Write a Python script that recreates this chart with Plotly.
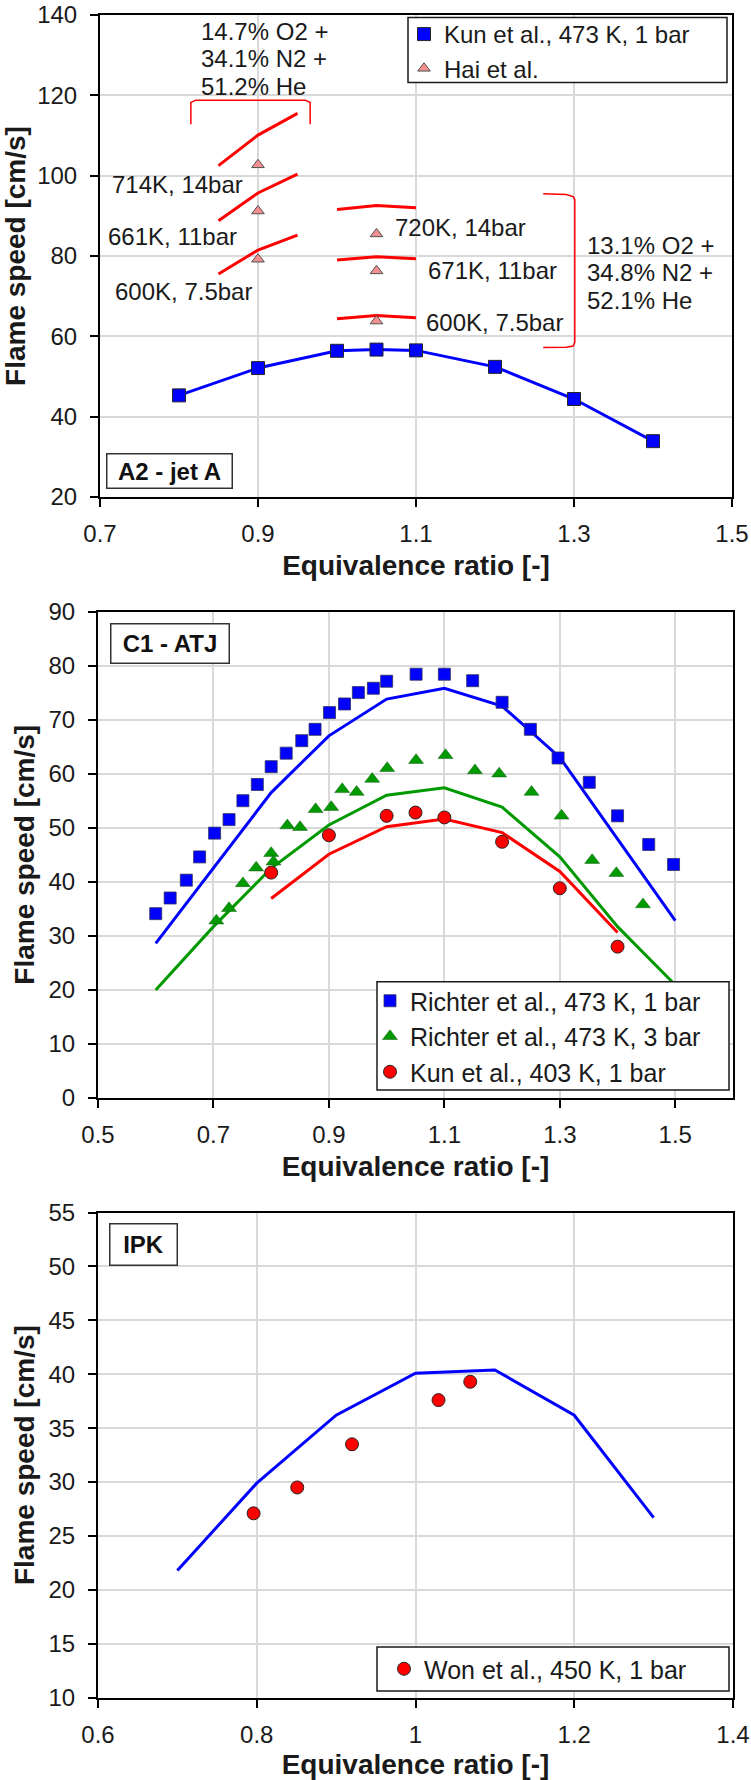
import plotly.graph_objects as go

# ---------------- DATA ----------------
# Panel 1: A2 - jet A
a2_kun_phi = [0.8, 0.9, 1.0, 1.05, 1.1, 1.2, 1.3, 1.4]
a2_kun_sl = [45.3, 52.1, 56.4, 56.7, 56.5, 52.4, 44.4, 33.9]

hai_phi = [0.9, 0.9, 0.9, 1.05, 1.05, 1.05]
hai_sl = [102.7, 91.2, 79.2, 85.5, 76.3, 63.8]

hai_sim_phi_a = [0.85, 0.9, 0.95]
hai_sim_714 = [102.5, 110.1, 115.5]
hai_sim_661 = [88.8, 95.7, 100.4]
hai_sim_600a = [75.5, 81.5, 85.2]
hai_sim_phi_b = [1.0, 1.05, 1.1]
hai_sim_720 = [91.6, 92.6, 92.0]
hai_sim_671 = [79.0, 79.8, 79.3]
hai_sim_600b = [64.4, 65.2, 64.6]

bracket1_phi = [0.815, 0.815, 0.821, 0.960, 0.966, 0.966]
bracket1_sl = [112.8, 118.2, 118.8, 118.8, 118.2, 112.8]
bracket2_phi = [1.261, 1.290, 1.299, 1.301, 1.301, 1.299, 1.290, 1.261]
bracket2_sl = [95.5, 95.3, 94.8, 94.0, 58.5, 57.6, 57.3, 57.2]

# Panel 2: C1 - ATJ
c1_r1_phi = [0.600, 0.625, 0.653, 0.676, 0.702, 0.727, 0.751, 0.776, 0.80, 0.826, 0.853,
             0.876, 0.901, 0.927, 0.951, 0.977, 1.0, 1.051, 1.10, 1.149, 1.2, 1.249,
             1.297, 1.351, 1.40, 1.454, 1.497]
c1_r1_sl = [34.1, 37.0, 40.3, 44.6, 49.0, 51.5, 55.0, 58.0, 61.3, 63.8, 66.1,
            68.2, 71.3, 72.9, 75.0, 75.8, 77.1, 78.4, 78.4, 77.2, 73.2, 68.2,
            62.9, 58.4, 52.2, 46.9, 43.2]

c1_r3_phi = [0.705, 0.727, 0.751, 0.774, 0.80, 0.804, 0.828, 0.85, 0.877, 0.904, 0.923,
             0.948, 0.975, 1.001, 1.051, 1.102, 1.153, 1.195, 1.251, 1.303, 1.356,
             1.398, 1.444]
c1_r3_sl = [32.8, 35.1, 39.7, 42.6, 45.3, 43.7, 50.4, 50.1, 53.4, 53.8, 57.1,
            56.6, 59.0, 61.0, 62.5, 63.4, 60.6, 60.0, 56.6, 52.2, 44.0,
            41.6, 35.8]

c1_kun_phi = [0.80, 0.90, 1.0, 1.05, 1.1, 1.2, 1.3, 1.4]
c1_kun_sl = [41.7, 48.6, 52.2, 52.8, 51.9, 47.4, 38.8, 28.0]

c1_sim_phi = [0.6, 0.7, 0.8, 0.9, 1.0, 1.1, 1.2, 1.3, 1.4, 1.5]
c1_sim_1bar = [28.6, 42.6, 56.5, 67.0, 73.8, 75.8, 72.5, 63.0, 48.0, 32.8]
c1_sim_3bar = [20.0, 31.7, 42.5, 50.5, 56.0, 57.4, 53.8, 44.6, 31.7, 20.9]
c1_sim_kun_phi = [0.8, 0.9, 1.0, 1.1, 1.2, 1.3, 1.4]
c1_sim_kun = [36.9, 45.1, 50.2, 51.6, 49.1, 41.9, 30.6]

# Panel 3: IPK
ipk_sim_phi = [0.7, 0.8, 0.9, 1.0, 1.1, 1.2, 1.3]
ipk_sim = [21.8, 29.9, 36.2, 40.1, 40.4, 36.2, 26.7]
won_phi = [0.796, 0.851, 0.92, 1.029, 1.069]
won_sl = [27.1, 29.5, 33.5, 37.6, 39.3]

# ---------------- STYLE ----------------
W, H = 751, 1780
FONT = "Liberation Sans, Arial, sans-serif"
BLUE = "#0000ff"
RED = "#ff0000"
GREEN = "#009a00"
DARK = "#262626"


def px(x):
    return x / W


def py(y):
    return 1 - y / H


fig = go.Figure()

# ---- Panel 1 ----
fig.add_trace(go.Scatter(x=a2_kun_phi, y=a2_kun_sl, mode="lines",
                         line=dict(color=BLUE, width=3), showlegend=False,
                         xaxis="x", yaxis="y"))
for ys in [hai_sim_714, hai_sim_661, hai_sim_600a]:
    fig.add_trace(go.Scatter(x=hai_sim_phi_a, y=ys, mode="lines",
                             line=dict(color=RED, width=3), showlegend=False,
                             xaxis="x", yaxis="y"))
for ys in [hai_sim_720, hai_sim_671, hai_sim_600b]:
    fig.add_trace(go.Scatter(x=hai_sim_phi_b, y=ys, mode="lines",
                             line=dict(color=RED, width=3), showlegend=False,
                             xaxis="x", yaxis="y"))
fig.add_trace(go.Scatter(x=bracket1_phi, y=bracket1_sl, mode="lines",
                         line=dict(color=RED, width=1.5), showlegend=False,
                         xaxis="x", yaxis="y"))
fig.add_trace(go.Scatter(x=bracket2_phi, y=bracket2_sl, mode="lines",
                         line=dict(color=RED, width=1.5), showlegend=False,
                         xaxis="x", yaxis="y"))
fig.add_trace(go.Scatter(x=a2_kun_phi, y=a2_kun_sl, mode="markers",
                         name="Kun et al., 473 K, 1 bar",
                         marker=dict(symbol="square", size=13, color=BLUE,
                                     line=dict(color=DARK, width=1)),
                         legend="legend", legendgroup="a", xaxis="x", yaxis="y"))
fig.add_trace(go.Scatter(x=hai_phi, y=hai_sl, mode="markers",
                         name="Hai et al.",
                         marker=dict(symbol="triangle-up", size=11, color="#f59090",
                                     line=dict(color="#505050", width=1)),
                         legend="legend", legendgroup="b", xaxis="x", yaxis="y"))

# ---- Panel 2 ----
fig.add_trace(go.Scatter(x=c1_sim_phi, y=c1_sim_1bar, mode="lines",
                         line=dict(color=BLUE, width=3), showlegend=False,
                         xaxis="x2", yaxis="y2"))
fig.add_trace(go.Scatter(x=c1_sim_phi, y=c1_sim_3bar, mode="lines",
                         line=dict(color=GREEN, width=3), showlegend=False,
                         xaxis="x2", yaxis="y2"))
fig.add_trace(go.Scatter(x=c1_sim_kun_phi, y=c1_sim_kun, mode="lines",
                         line=dict(color=RED, width=3), showlegend=False,
                         xaxis="x2", yaxis="y2"))
fig.add_trace(go.Scatter(x=c1_r1_phi, y=c1_r1_sl, mode="markers",
                         name="Richter et al., 473 K, 1 bar",
                         marker=dict(symbol="square", size=12, color=BLUE,
                                     line=dict(color="#303060", width=0.8)),
                         legend="legend2", legendgroup="c", xaxis="x2", yaxis="y2"))
fig.add_trace(go.Scatter(x=c1_r3_phi, y=c1_r3_sl, mode="markers",
                         name="Richter et al., 473 K, 3 bar",
                         marker=dict(symbol="triangle-up", size=13, color=GREEN,
                                     line=dict(color="#1a5c1a", width=0.5)),
                         legend="legend2", legendgroup="d", xaxis="x2", yaxis="y2"))
fig.add_trace(go.Scatter(x=c1_kun_phi, y=c1_kun_sl, mode="markers",
                         name="Kun et al., 403 K, 1 bar",
                         marker=dict(symbol="circle", size=13, color=RED,
                                     line=dict(color=DARK, width=1)),
                         legend="legend2", legendgroup="e", xaxis="x2", yaxis="y2"))

# ---- Panel 3 ----
fig.add_trace(go.Scatter(x=ipk_sim_phi, y=ipk_sim, mode="lines",
                         line=dict(color=BLUE, width=3), showlegend=False,
                         xaxis="x3", yaxis="y3"))
fig.add_trace(go.Scatter(x=won_phi, y=won_sl, mode="markers",
                         name="Won et al., 450 K, 1 bar",
                         marker=dict(symbol="circle", size=13, color=RED,
                                     line=dict(color=DARK, width=1)),
                         legend="legend3", xaxis="x3", yaxis="y3"))

# ---------------- AXES ----------------
common = dict(showline=True, linecolor="black", linewidth=2, mirror=True,
              ticks="outside", ticklen=8, tickwidth=2, tickcolor="black",
              showgrid=True, gridcolor="#d9d9d9", gridwidth=1.5, zeroline=False,
              tickfont=dict(family=FONT, size=24, color="#1a1a1a"),
              automargin=False, ticklabeloverflow="allow")
xtitle = dict(text="<b>Equivalence ratio [-]</b>",
              font=dict(family=FONT, size=28, color="#1a1a1a"), standoff=10)
ytitle = dict(text="<b>Flame speed [cm/s]</b>",
              font=dict(family=FONT, size=28, color="#1a1a1a"), standoff=6)
xc = dict(common, ticklabelstandoff=6, title=xtitle)
yc = dict(common, ticklabelstandoff=8, title=ytitle)

fig.update_layout(
    xaxis=dict(xc, domain=[px(100), px(732)], range=[0.7, 1.5], tick0=0.7, dtick=0.2,
               anchor="y"),
    yaxis=dict(yc, domain=[py(497), py(15)], range=[20, 140], dtick=20, anchor="x"),
    xaxis2=dict(xc, domain=[px(98), px(733)], range=[0.5, 1.6], tick0=0.5, dtick=0.2,
                anchor="y2"),
    yaxis2=dict(yc, domain=[py(1098), py(611.5)], range=[0, 90], dtick=10, anchor="x2"),
    xaxis3=dict(xc, domain=[px(98), px(733)], range=[0.6, 1.4], tick0=0.6, dtick=0.2,
                anchor="y3"),
    yaxis3=dict(yc, domain=[py(1697.7), py(1212.5)], range=[10, 55], dtick=5, anchor="x3"),
)

legend_common = dict(xanchor="left", yanchor="top", bgcolor="rgba(0,0,0,0)",
                     borderwidth=0, font=dict(family=FONT, size=25, color="#1a1a1a"),
                     tracegroupgap=0)
fig.update_layout(
    legend=dict(legend_common, x=px(404), y=py(12), font=dict(family=FONT, size=24, color="#1a1a1a")),
    legend2=dict(legend_common, x=px(370), y=py(978)),
    legend3=dict(legend_common, x=px(384), y=py(1646)),
)

# legend frames
shapes = []
for (x0, y0, x1, y1) in [(408, 17.5, 727, 82.5), (377, 981.7, 729, 1090), (377, 1647, 729, 1691)]:
    shapes.append(dict(type="rect", xref="paper", yref="paper",
                       x0=px(x0), x1=px(x1), y0=py(y0), y1=py(y1),
                       line=dict(color="#1a1a1a", width=1.5), fillcolor="white",
                       layer="above"))
fig.update_layout(shapes=shapes)

ann = []
# panel labels
for text, cx, cy, w, h in [("A2 - jet A", 169.5, 470.5, 124, 33),
                           ("C1 - ATJ", 170, 643.5, 117, 38),
                           ("IPK", 143.5, 1244.5, 66, 40)]:
    ann.append(dict(text="<b>%s</b>" % text, xref="paper", yref="paper",
                    x=px(cx), y=py(cy), xanchor="center", yanchor="middle",
                    showarrow=False, width=w, height=h, borderpad=0,
                    bordercolor="#333333", borderwidth=1.5, bgcolor="white",
                    font=dict(family=FONT, size=24, color="#111111")))

lab_font = dict(family=FONT, size=24, color="#1a1a1a")
for text, x, y in [("714K, 14bar", 0.7127, 97.9), ("661K, 11bar", 0.7076, 84.9),
                   ("600K, 7.5bar", 0.7165, 71.2), ("720K, 14bar", 1.071, 87.1),
                   ("671K, 11bar", 1.1127, 76.3), ("600K, 7.5bar", 1.110, 63.4),
                   ("14.7% O2 +", 0.825, 136.0), ("34.1% N2 +", 0.825, 129.1),
                   ("51.2% He", 0.825, 122.2),
                   ("13.1% O2 +", 1.314, 82.7), ("34.8% N2 +", 1.314, 75.9),
                   ("52.1% He", 1.314, 68.9)]:
    ann.append(dict(text=text, xref="x", yref="y", x=x, y=y, xanchor="left",
                    yanchor="middle", showarrow=False, font=lab_font))
fig.update_layout(annotations=ann)

fig.update_layout(width=W, height=H, margin=dict(l=0, r=0, t=0, b=0),
                  paper_bgcolor="white", plot_bgcolor="white",
                  font=dict(family=FONT, color="#1a1a1a"))

fig.write_html("out.html")
